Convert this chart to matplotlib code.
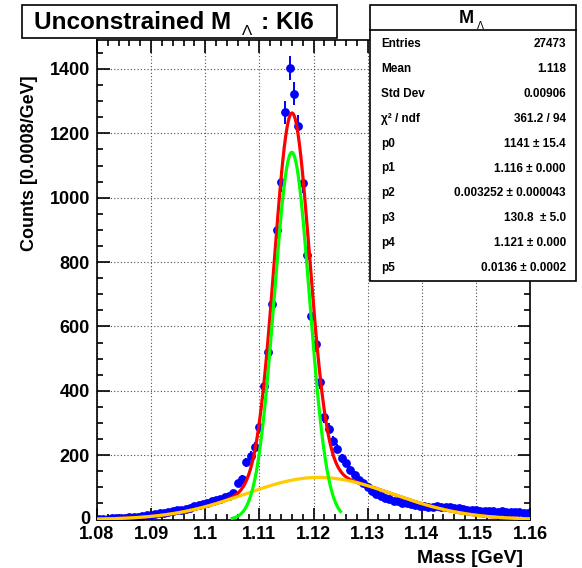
import numpy as np
import matplotlib
matplotlib.use('Agg')
import matplotlib.pyplot as plt
from matplotlib.patches import Rectangle
from matplotlib.ticker import MultipleLocator

plt.rcParams['font.family'] = ['Liberation Sans', 'DejaVu Sans']

# histogram binning
mass_lo, mass_hi, n_bins = 1.08, 1.16, 100

# bin contents (100 bins of 0.0008 GeV)
counts = [
    2, 3, 3, 4, 4, 5, 6, 7, 8, 9,
    11, 13, 15, 17, 19, 21, 24, 26, 29, 31,
    34, 37, 41, 44, 48, 52, 56, 60, 64, 69,
    74, 81, 112, 127, 178, 198, 225, 286, 415, 519,
    670, 901, 1050, 1265, 1402, 1323, 1222, 1046, 821, 633,
    545, 426, 318, 282, 245, 220, 190, 176, 155, 138,
    124, 113, 102, 88, 80, 72, 67, 63, 59, 56,
    52, 50, 48, 45, 43, 41, 40, 40, 41, 40,
    39, 38, 37, 35, 33, 31, 30, 28, 27, 26,
    26, 25, 24, 25, 24, 23, 22, 22, 21, 20,
]

# fit parameters (double gaussian), as printed in the stats box
p0, p1, p2 = 1141.0, 1.116, 0.003252
p3, p4, p5 = 130.8, 1.121, 0.0136
sig_lo, sig_hi = 1.105, 1.125

stats_labels = ['Entries', 'Mean', 'Std Dev', 'χ² / ndf',
                'p0', 'p1', 'p2', 'p3', 'p4', 'p5']
stats_values = ['27473', '1.118', '0.00906', '361.2 / 94',
                '1141 ± 15.4', '1.116 ± 0.000', '0.003252 ± 0.000043',
                '130.8  ± 5.0', '1.121 ± 0.000', '0.0136 ± 0.0002']

W, H = 582, 568


def fx(px):
    return px / W


def fy(py):
    return 1 - py / H


def gaus(x, a, mu, s):
    return a * np.exp(-0.5 * ((x - mu) / s) ** 2)


fig = plt.figure(figsize=(W / 100, H / 100), dpi=100)
ax = fig.add_axes([fx(97), fy(519.5), (530 - 97) / W, (519.5 - 40) / H])

width = (mass_hi - mass_lo) / n_bins
centers = mass_lo + width * (np.arange(n_bins) + 0.5)
y = np.array(counts, dtype=float)
ax.errorbar(centers, y, yerr=np.sqrt(y), fmt='o', color='#0000ff', ms=5.3,
            elinewidth=1.4, capsize=0, zorder=2)

xs = np.linspace(mass_lo, mass_hi, 600)
ax.plot(xs, gaus(xs, p0, p1, p2) + gaus(xs, p3, p4, p5), color='#ff0000', lw=2.3, zorder=3)
ax.plot(xs, gaus(xs, p3, p4, p5), color='#ffcc00', lw=2.3, zorder=4)
xg = np.linspace(sig_lo, sig_hi, 300)
ax.plot(xg, gaus(xg, p0, p1, p2), color='#00ff00', lw=2.3, zorder=5)

ax.set_xlim(mass_lo, mass_hi)
ax.set_ylim(0, 1490)
ax.xaxis.set_minor_locator(MultipleLocator(0.002))
ax.yaxis.set_major_locator(MultipleLocator(200))
ax.yaxis.set_minor_locator(MultipleLocator(50))
xt = np.round(np.arange(1.08, 1.1601, 0.01), 2)
ax.set_xticks(xt)
ax.set_xticklabels(['%g' % v for v in xt])
ax.yaxis.set_major_formatter(matplotlib.ticker.FuncFormatter(lambda v, p: '%d' % v if v > 0 else ''))
ax.grid(True, which='major', linestyle=(0, (1, 2)), color='0.3', linewidth=0.8)
ax.set_axisbelow(True)
ax.tick_params(which='both', direction='in', top=True, right=True, width=1.2,
               labelsize=13, pad=5)
ax.tick_params(which='major', length=9)
ax.tick_params(which='minor', length=4.5)
for lbl in ax.get_xticklabels() + ax.get_yticklabels():
    lbl.set_fontweight('bold')
for sp in ax.spines.values():
    sp.set_linewidth(1.2)
# ROOT leaves the 0 label sitting at the corner
fig.text(fx(90), fy(519.5), '0', ha='right', va='center', fontsize=13, fontweight='bold')

fig.text(fx(30), fy(75), 'Counts [0.0008/GeV]', rotation=90, ha='center', va='top',
         fontsize=13, fontweight='bold')
fig.text(fx(523), fy(563), 'Mass [GeV]', ha='right', va='baseline',
         fontsize=14, fontweight='bold')

# title box
fig.patches.append(Rectangle((fx(22), fy(38)), (337 - 22) / W, 33 / H, transform=fig.transFigure,
                             facecolor='white', edgecolor='black', lw=1.2, zorder=5))
fig.text(fx(34), fy(29), 'Unconstrained M', fontsize=17.5, fontweight='bold',
         va='baseline', zorder=6)
fig.text(fx(242), fy(35), 'Λ', fontsize=11, va='baseline', zorder=6)
fig.text(fx(261), fy(29), ': KI6', fontsize=17.5, fontweight='bold', va='baseline', zorder=6)

# stats box
fig.patches.append(Rectangle((fx(370), fy(281)), (576 - 370) / W, (281 - 5) / H,
                             transform=fig.transFigure, facecolor='white',
                             edgecolor='black', lw=1.2, zorder=5))
fig.lines.append(plt.Line2D([fx(370), fx(576)], [fy(30), fy(30)], transform=fig.transFigure,
                            color='black', lw=1.2, zorder=6))
fig.text(fx(459), fy(23), 'M', fontsize=13, fontweight='bold', va='baseline', zorder=6)
fig.text(fx(477), fy(29), 'Λ', fontsize=7.5, va='baseline', zorder=6)
for k, (lab, val) in enumerate(zip(stats_labels, stats_values)):
    yy = fy(44 + 24.9 * k)
    fig.text(fx(381), yy, lab, fontsize=8.5, fontweight='bold', va='center', zorder=6)
    fig.text(fx(566), yy, val, fontsize=8.5, fontweight='bold', va='center', ha='right', zorder=6)

fig.savefig('out.png', dpi=100)
